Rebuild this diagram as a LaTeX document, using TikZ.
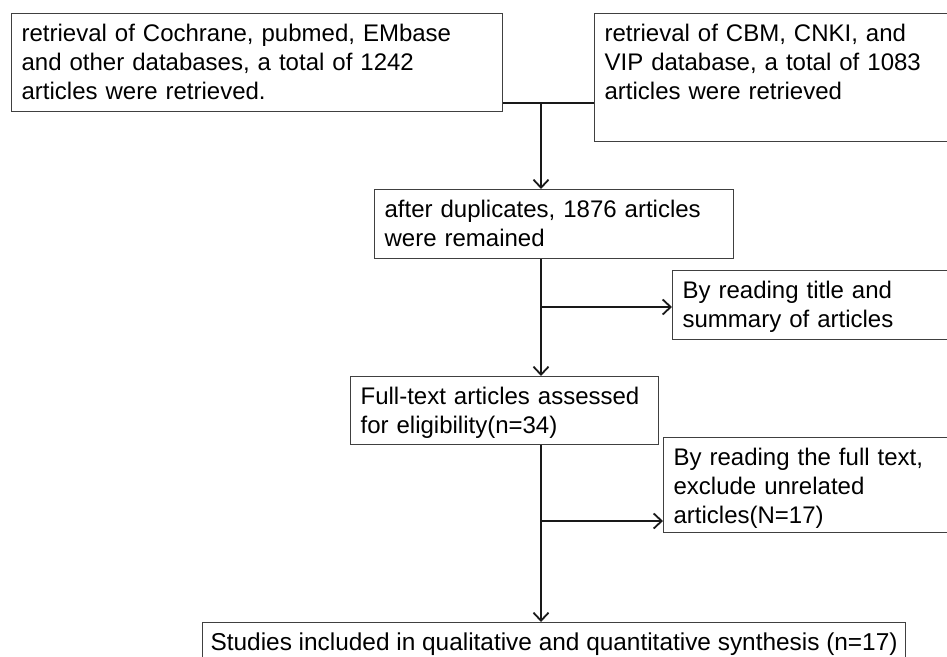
\documentclass[tikz,border=0pt]{standalone}
\usepackage{fontspec}
\setmainfont{Liberation Sans}
\usetikzlibrary{arrows.meta}

\begin{document}
\begin{tikzpicture}[
        x=1pt, y=-1pt,
        box/.style={draw=black!75, line width=1.2pt, anchor=north west, align=left,
            inner xsep=10pt, inner ysep=0pt, text height=28pt,
            font=\fontsize{24}{29}\selectfont},
        link/.style={draw=black!90, line width=1.6pt},
        arrow/.style={link, -{Straight Barb[length=8pt,width=15pt,line width=1.8pt]}}
    ]
    \useasboundingbox (0,0) rectangle (947,656);
    \clip (0,0) rectangle (947,656);

    \node[box, text width=471pt, text depth=70pt] (cochrane) at (11,13)
        {retrieval of Cochrane, pubmed, EMbase\\and other databases, a total of 1242\\articles were retrieved.};
    \node[box, text width=380pt, text depth=100pt] (cbm) at (594,13)
        {retrieval of CBM, CNKI, and\\VIP database, a total of 1083\\articles were retrieved};
    \node[box, text width=339pt, text depth=41pt] (dup) at (374,189)
        {after duplicates, 1876 articles\\were remained};
    \node[box, text width=300pt, text depth=41pt] (title) at (672,270)
        {By reading title and\\summary of articles};
    \node[box, text width=288pt, text depth=40pt] (full) at (350,376)
        {Full-text articles assessed\\for eligibility(n=34)};
    \node[box, text width=300pt, text depth=67pt] (excl) at (663,437)
        {By reading the full text,\\exclude unrelated\\articles(N=17)};
    \node[box, inner xsep=8pt, text depth=60pt, font=\fontsize{24.4}{29}\selectfont] (incl) at (202,622)
        {Studies included in qualitative and quantitative synthesis (n=17)};

    \coordinate (merge) at (541,103);
    \coordinate (split1) at (541,307);
    \coordinate (split2) at (541,521);

    \draw[link] (cochrane.east |- merge) -- (cbm.west |- merge);
    \draw[arrow] (merge) -- (merge |- dup.north);
    \draw[arrow] (merge |- dup.south) -- (merge |- full.north);
    \draw[arrow] (split1) -- (split1 -| title.west);
    \draw[arrow] (merge |- full.south) -- (merge |- incl.north);
    \draw[arrow] (split2) -- (split2 -| excl.west);
\end{tikzpicture}
\end{document}
